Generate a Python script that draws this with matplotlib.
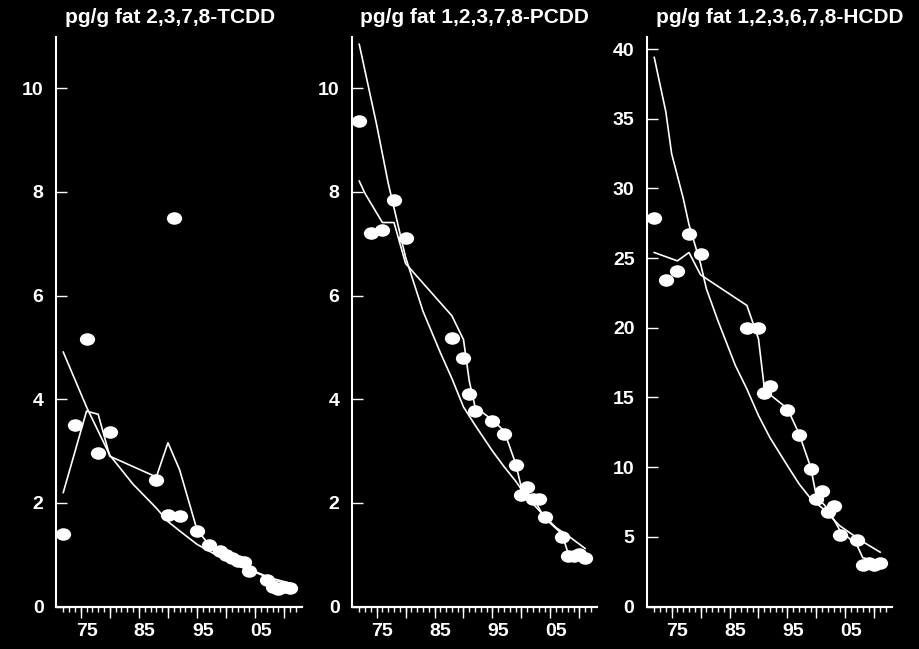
import matplotlib
matplotlib.use("Agg")
import matplotlib.pyplot as plt
from matplotlib.path import Path

# ---------------- data ----------------
years = [1971, 1973, 1975, 1977, 1979, 1987, 1989, 1990, 1991, 1994, 1996,
         1998, 1999, 2000, 2001, 2002, 2003, 2006, 2007, 2008, 2009, 2010]

tcdd = [1.40, 3.50, 5.17, 2.96, 3.37, 2.44, 1.77, 7.50, 1.75, 1.46, 1.18,
        1.08, 1.00, 0.94, 0.87, 0.85, 0.68, 0.52, 0.38, 0.33, 0.38, 0.36]
pcdd = [9.37, 7.21, 7.27, 7.85, 7.12, 5.19, 4.79, 4.10, 3.77, 3.58, 3.33,
        2.73, 2.15, 2.30, 2.08, 2.07, 1.72, 1.34, 0.97, 0.97, 1.02, 0.93]
hcdd = [27.9, 23.4, 24.1, 26.7, 25.3, 20.0, 20.0, 15.3, 15.8, 14.1, 12.3,
        9.9, 7.7, 8.3, 6.8, 7.2, 5.1, 4.8, 3.0, 3.1, 3.0, 3.1]

tcdd_fit_years = [1971, 1975, 1979, 1983, 1987, 1989, 1991, 1994, 1998, 2002, 2006, 2010]
tcdd_fit = [4.91, 3.85, 2.92, 2.36, 1.90, 1.64, 1.46, 1.20, 0.95, 0.75, 0.57, 0.45]
tcdd_ma_years = [1971, 1975, 1977, 1979, 1987, 1989, 1991, 1994, 1996, 1998,
                 2000, 2002, 2003, 2006, 2007, 2010]
tcdd_ma = [2.20, 3.77, 3.71, 2.90, 2.50, 3.16, 2.64, 1.48, 1.20, 1.05,
           0.93, 0.83, 0.72, 0.58, 0.50, 0.44]

pcdd_fit_years = [1971, 1974, 1976, 1979, 1982, 1985, 1987, 1989, 1991, 1994,
                  1996, 1998, 2000, 2003, 2005, 2007, 2010]
pcdd_fit = [10.85, 9.30, 8.17, 6.74, 5.70, 4.90, 4.40, 3.85, 3.50, 3.00,
            2.70, 2.42, 2.10, 1.74, 1.52, 1.37, 1.12]
pcdd_ma_years = [1971, 1972, 1975, 1977, 1979, 1987, 1989, 1990, 1991, 1994,
                 1996, 1998, 1999, 2001, 2003, 2006, 2007, 2010]
pcdd_ma = [8.21, 7.97, 7.41, 7.41, 6.62, 5.61, 5.15, 4.35, 3.85, 3.60,
           3.39, 2.76, 2.29, 2.10, 1.71, 1.40, 1.05, 1.02]

hcdd_fit_years = [1971, 1973, 1974, 1976, 1977, 1979, 1980, 1982, 1985, 1987,
                  1989, 1991, 1994, 1996, 1998, 2000, 2003, 2007, 2010]
hcdd_fit = [39.4, 35.5, 32.5, 29.3, 27.4, 24.6, 22.8, 20.5, 17.3, 15.6,
            13.7, 12.1, 10.1, 8.8, 7.75, 7.06, 5.8, 4.65, 3.9]
hcdd_ma_years = [1971, 1975, 1977, 1979, 1987, 1989, 1990, 1991, 1994, 1996,
                 1998, 1999, 2001, 2003, 2006, 2007, 2010]
hcdd_ma = [25.4, 24.8, 25.4, 23.8, 21.6, 19.2, 15.7, 15.2, 14.2, 12.4,
           10.0, 7.9, 7.0, 5.5, 4.4, 3.5, 3.2]

titles = ["pg/g fat 2,3,7,8-TCDD", "pg/g fat 1,2,3,7,8-PCDD", "pg/g fat 1,2,3,6,7,8-HCDD"]
ylims = [11.0, 11.0, 40.9]
yticks = [[0, 2, 4, 6, 8, 10], [0, 2, 4, 6, 8, 10], [0, 5, 10, 15, 20, 25, 30, 35, 40]]
label_years = [1975, 1985, 1995, 2005]
label_text = ["75", "85", "95", "05"]
long_tick_years = list(range(1974, 2012, 5))
short_tick_years = list(range(1971, 2012))

series = [
    (tcdd, tcdd_fit_years, tcdd_fit, tcdd_ma_years, tcdd_ma),
    (pcdd, pcdd_fit_years, pcdd_fit, pcdd_ma_years, pcdd_ma),
    (hcdd, hcdd_fit_years, hcdd_fit, hcdd_ma_years, hcdd_ma),
]

# horizontal oval marker
_circ = Path.unit_circle()
oval = Path(_circ.vertices * [1.0, 0.82], _circ.codes)

# ---------------- figure ----------------
plt.rcParams['font.family'] = ['Liberation Sans', 'DejaVu Sans']
plt.rcParams['font.weight'] = 'bold'

W, H = 919, 649
fig = plt.figure(figsize=(W / 100, H / 100), dpi=100, facecolor='black')

lefts = [56, 352, 647]
widths = [246, 245, 245]
bottom = (H - 606.5) / H
height = (606.5 - 36.5) / H
title_x = [0.463, 0.5, 0.541]

for i in range(3):
    ax = fig.add_axes([lefts[i] / W, bottom, widths[i] / W, height])
    ax.set_facecolor('black')
    vals, fy, fv, my, mv = series[i]
    ax.plot(fy, fv, color='white', lw=1.2, zorder=2)
    ax.plot(my, mv, color='white', lw=1.2, zorder=2)
    ax.plot(years, vals, linestyle='none', marker=oval, color='white', ms=11,
            mec='none', zorder=3)

    ax.set_xlim(1969.75, 2012.05)
    ax.set_ylim(0, ylims[i])

    for s in ['top', 'right']:
        ax.spines[s].set_visible(False)
    for s in ['left', 'bottom']:
        ax.spines[s].set_color('white')
        ax.spines[s].set_linewidth(1.5)
        ax.spines[s].set_zorder(4)

    ax.set_yticks(yticks[i])
    ax.set_yticklabels([str(v) for v in yticks[i]])
    ax.tick_params(axis='y', direction='in', length=7.7, width=1.0,
                   colors='white', labelsize=14, pad=9)

    ax.set_xticks(label_years)
    ax.set_xticklabels(label_text)
    ax.set_xticks(short_tick_years, minor=True)
    ax.tick_params(axis='x', which='major', direction='out', length=3.4, width=1.0,
                   colors='white', labelsize=14, pad=8.5)
    ax.tick_params(axis='x', which='minor', direction='out', length=3.4, width=1.0,
                   colors='white')

    sec = ax.secondary_xaxis('bottom')
    sec.set_xticks(long_tick_years)
    sec.set_xticklabels([])
    sec.tick_params(axis='x', direction='out', length=7.7, width=1.0, colors='white')
    sec.spines['bottom'].set_color('white')
    sec.spines['bottom'].set_linewidth(1.5)

    for lab in ax.get_xticklabels() + ax.get_yticklabels():
        lab.set_fontweight('bold')

    ax.set_title(titles[i], color='white', fontsize=15, fontweight='bold',
                 pad=10, x=title_x[i])

fig.savefig('out.png', dpi=100, facecolor='black')
